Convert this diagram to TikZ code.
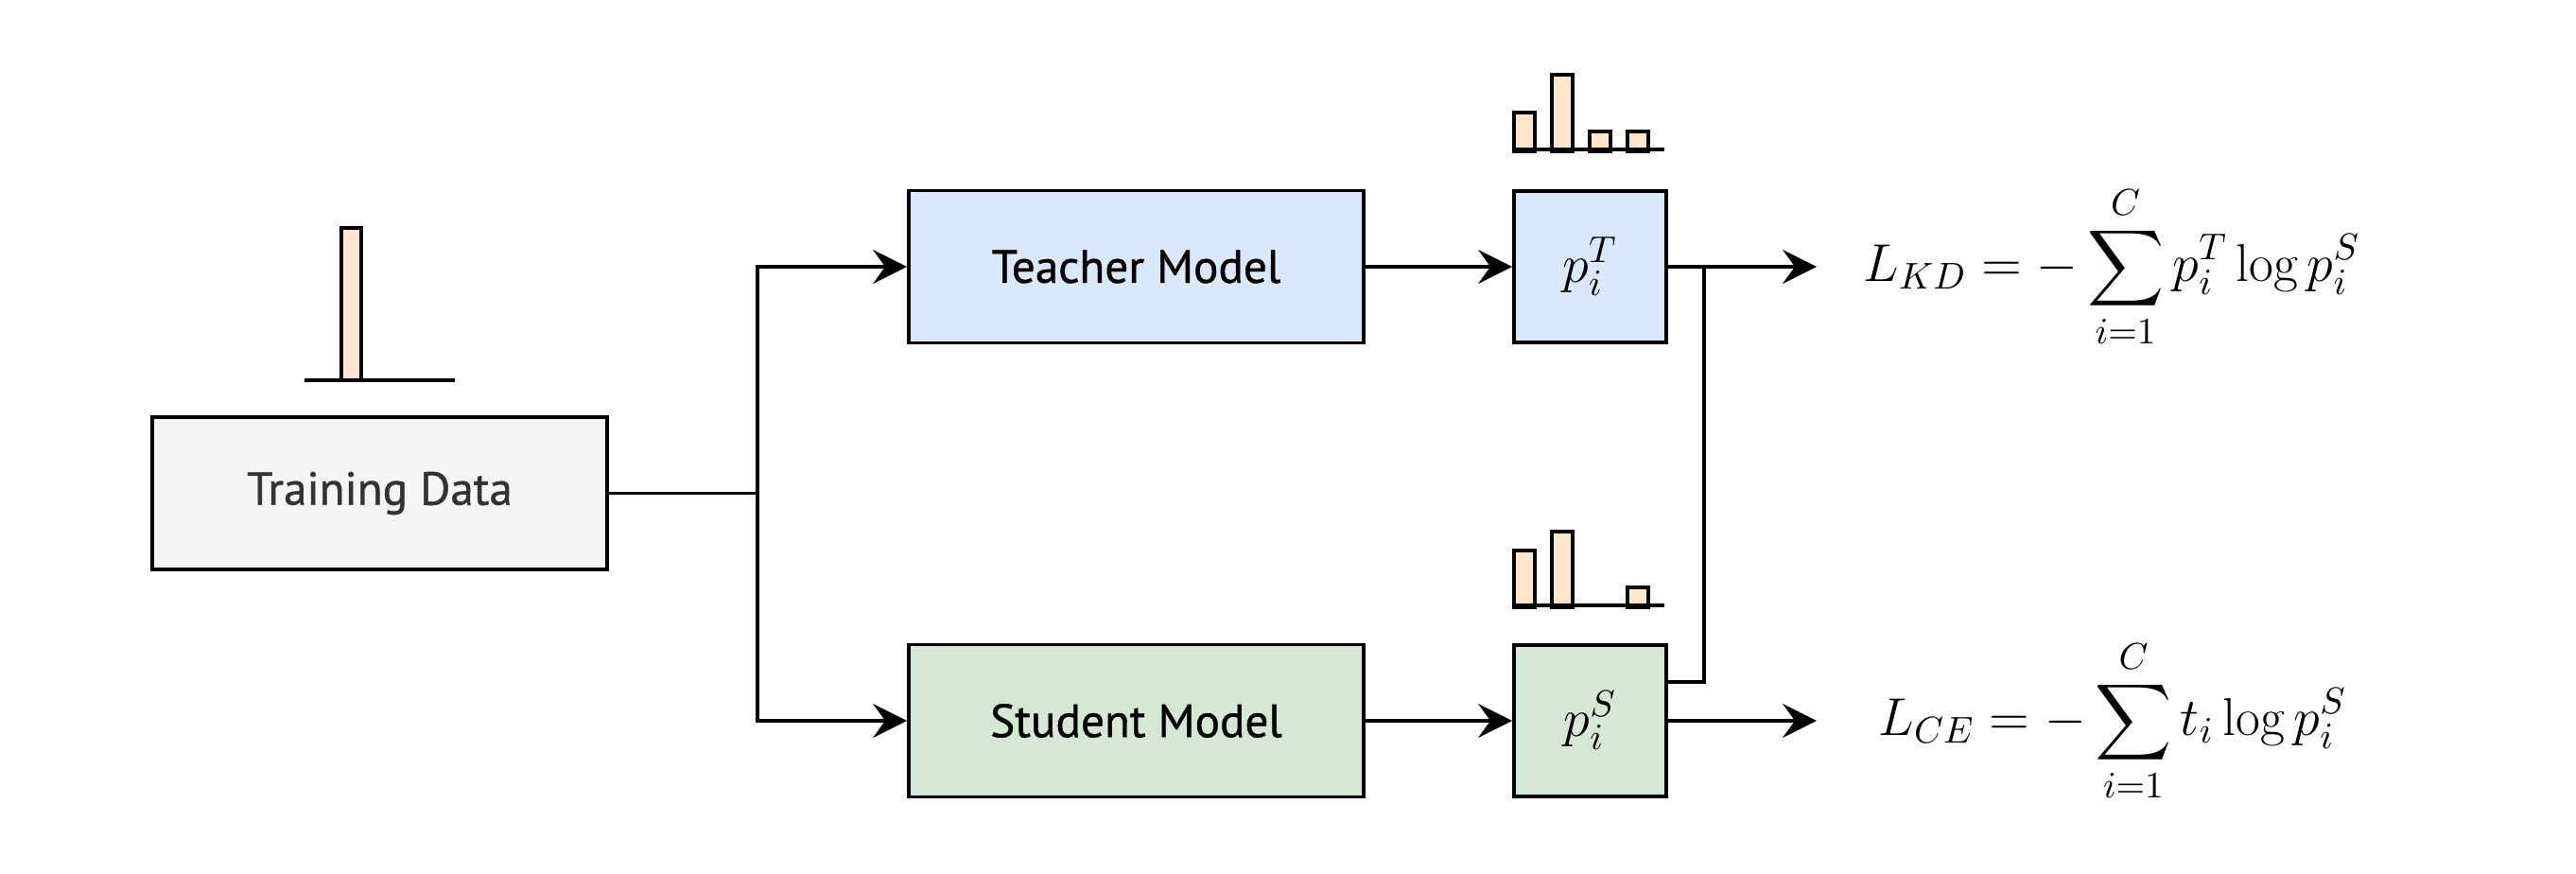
\RequirePackage{fix-cm}
\documentclass[tikz,border=0pt]{standalone}
\usepackage{amsmath}
\usepackage{amssymb}
\usepackage{fontspec}
\newfontfamily\boxfont[FakeBold=0.9]{PT Sans}
\usepackage{tikz}
\usetikzlibrary{arrows.meta}

\definecolor{trainfill}{HTML}{F5F5F5}
\definecolor{trainfont}{HTML}{333333}
\definecolor{teachfill}{HTML}{DAE8FC}
\definecolor{studfill}{HTML}{D5E8D4}
\definecolor{barfill}{HTML}{FFE6CC}

\tikzset{
  modelbox/.style={draw, line width=1.1pt, minimum width=4.81cm, minimum height=1.61cm,
    font=\boxfont\fontsize{14}{16}\selectfont},
  probbox/.style={draw, line width=1.1pt, minimum width=1.61cm, minimum height=1.6cm,
    font=\fontsize{16}{19}\selectfont},
  link/.style={line width=0.95pt},
  arrow/.style={line width=0.95pt, -{Stealth[length=3.6mm, width=3.6mm, inset=1.3mm]}},
  bar/.style={fill=barfill, draw, line width=1.1pt},
  loss/.style={anchor=west, inner ysep=0pt, font=\fontsize{16}{19}\selectfont}
}

\begin{document}
\begin{tikzpicture}
\useasboundingbox (0,0) rectangle (27.24,9.24);
\node[modelbox, fill=trainfill, text=trainfont] (train) at (4.015,4.025) {Training Data};
\node[modelbox, fill=teachfill] (teacher) at (12.015,6.42) {Teacher Model};
\node[modelbox, fill=studfill] (student) at (12.015,1.62) {Student Model};
\node[probbox, fill=teachfill] (pT) at (16.815,6.42) {$p_i^T$};
\node[probbox, fill=studfill] (pS) at (16.815,1.62) {$p_i^S$};
\node[loss, inner xsep=0.49cm] (kd) at (19.21,6.42) {$\displaystyle L_{KD} = -\sum_{i=1}^{C} p_i^T \log p_i^S$};
\node[loss, inner xsep=0.65cm] (ce) at (19.21,1.62) {$\displaystyle L_{CE} = -\sum_{i=1}^{C} t_i \log p_i^S$};
\coordinate (split) at (8.01,4.025);
\coordinate (join) at (18.02,6.42);

% bar charts: one-hot label, teacher output, student output
\draw[bar] (3.61,5.22) rectangle (3.82,6.83);
\draw[link] (3.22,5.22) -- (4.81,5.22);
\draw[bar] (16.01,7.64) rectangle (16.23,8.05)
  (16.41,7.64) rectangle (16.63,8.45)
  (16.81,7.64) rectangle (17.03,7.85)
  (17.21,7.64) rectangle (17.43,7.85);
\draw[link] (pT.north west) ++(0,0.42) -- ++(1.61,0);
\draw[bar] (16.01,2.82) rectangle (16.23,3.42)
  (16.41,2.82) rectangle (16.63,3.62)
  (17.21,2.82) rectangle (17.43,3.03);
\draw[link] (pS.north west) ++(0,0.40) -- ++(1.61,0);

\draw[link] (train.east) -- (split);
\draw[arrow] (split) |- (teacher.west);
\draw[arrow] (split) |- (student.west);
\draw[arrow] (teacher) -- (pT);
\draw[arrow] (student) -- (pS);
\draw[arrow] (pT) -- (kd);
\draw[arrow] (pS) -- (ce);
\draw[link] ([yshift=0.41cm]pS.east) -| (join);
\end{tikzpicture}
\end{document}
